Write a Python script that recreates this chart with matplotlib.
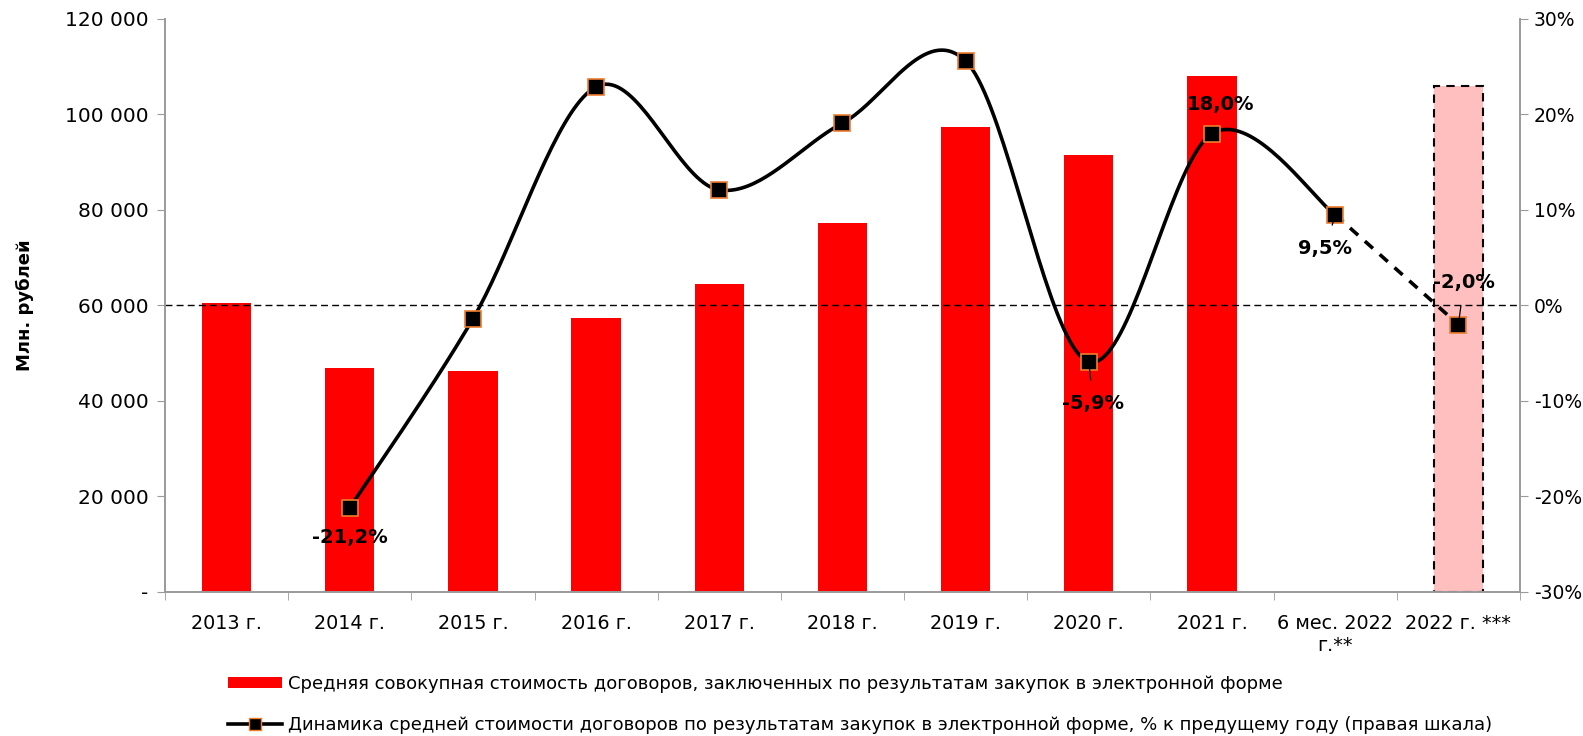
import numpy as np
import matplotlib.pyplot as plt
from matplotlib.patches import Patch
from matplotlib.lines import Line2D

plt.rcParams['font.family'] = ['DejaVu Sans']

categories = ['2013 г.', '2014 г.', '2015 г.', '2016 г.', '2017 г.', '2018 г.',
              '2019 г.', '2020 г.', '2021 г.', '6 мес. 2022\nг.**', '2022 г. ***']
avg_cost = [60500, 47000, 46300, 57300, 64500, 77200, 97400, 91500, 108100, None, 106000]
dyn_cats = ['2014 г.', '2015 г.', '2016 г.', '2017 г.', '2018 г.', '2019 г.',
            '2020 г.', '2021 г.', '6 мес. 2022\nг.**', '2022 г. ***']
dyn_pct = [-21.2, -1.4, 22.9, 12.1, 19.1, 25.6, -5.9, 18.0, 9.5, -2.0]

RED = '#FF0000'
PINK = '#FFBFBF'
ORANGE = '#ED7D31'
GRAY = '#9A9A9A'

fig = plt.figure(figsize=(15.83, 7.36), dpi=100)
ax = fig.add_axes([0.1042, 0.1957, 0.8560, 0.7785])
ax2 = ax.twinx()

x = np.arange(len(categories))
w = 0.4
for i, v in enumerate(avg_cost):
    if v is None:
        continue
    if i == len(categories) - 1:
        ax.bar(x[i], v, w, color=PINK, edgecolor='black', linestyle=(0, (4, 3)), linewidth=1.5, zorder=2)
    else:
        ax.bar(x[i], v, w, color=RED, zorder=2)

ax.set_xlim(-0.5, len(categories) - 0.5)
ax.set_ylim(0, 120000)
ax.set_yticks(np.arange(0, 120001, 20000))
ax.set_yticklabels(['-'] + [f'{v:,}'.replace(',', ' ') for v in range(20000, 120001, 20000)], fontsize=14.5)
ax.set_xticks(x)
ax.set_xticklabels(categories, fontsize=13.8, linespacing=1.2)
ax.set_xticks(np.arange(-0.5, len(categories), 1), minor=True)
ax.tick_params(axis='x', which='major', length=0, pad=16)
ax.tick_params(axis='x', which='minor', length=6, color=GRAY)
ax.tick_params(axis='y', length=6, color=GRAY, pad=6)
ax.set_ylabel('Млн. рублей', fontsize=13, fontweight='bold', labelpad=22)

ax2.set_ylim(-30, 30)
ax2.set_yticks(np.arange(-30, 31, 10))
ax2.set_yticklabels([f'{v}%' for v in range(-30, 31, 10)], fontsize=13.5)
ax2.tick_params(axis='y', length=6, color=GRAY, pad=4)

for a in (ax, ax2):
    a.spines['top'].set_visible(False)
    for s in ('left', 'right', 'bottom'):
        a.spines[s].set_color(GRAY)
        a.spines[s].set_linewidth(1.2)

ax2.axhline(0, color='black', linestyle=(0, (5, 3)), linewidth=1, zorder=1)

# smoothed line (Excel-style)
px = np.array([categories.index(c) for c in dyn_cats], dtype=float)
py = np.array(dyn_pct)
sx, sy = px[:-1], py[:-1]
P = np.column_stack([sx, sy])
Pext = np.vstack([P[0], P, P[-1]])
curve = []
t = np.linspace(0, 1, 40)[:, None]
for i in range(len(P) - 1):
    p0, p1, p2, p3 = Pext[i], Pext[i + 1], Pext[i + 2], Pext[i + 3]
    b1 = p1 + (p2 - p0) / 6
    b2 = p2 - (p3 - p1) / 6
    seg = (1 - t) ** 3 * p1 + 3 * (1 - t) ** 2 * t * b1 + 3 * (1 - t) * t ** 2 * b2 + t ** 3 * p2
    curve.append(seg)
curve = np.vstack(curve)
ax2.plot(curve[:, 0], curve[:, 1], color='black', linewidth=2.6, zorder=3)
ax2.plot(px[-2:], py[-2:], color='black', linewidth=2.6, linestyle=(0, (3, 2.5)), zorder=3)
ax2.plot(px, py, linestyle='none', marker='s', markersize=12, markerfacecolor='black',
         markeredgecolor=ORANGE, markeredgewidth=1.2, zorder=4)

labels = {0: (0, -21), 6: (3, -30), 7: (6, 21), 8: (-7, -24), 9: (4, 30)}
for i, (dx, dy) in labels.items():
    txt = f'{dyn_pct[i]:.1f}%'.replace('.', ',')
    ax2.annotate(txt, (px[i], py[i]), xytext=(dx, dy), textcoords='offset points',
                 ha='center', va='center', fontsize=14, fontweight='bold', zorder=5,
                 arrowprops=dict(arrowstyle='-', color='black', lw=0.9, shrinkA=8, shrinkB=5))

handles = [Patch(facecolor=RED, edgecolor='none'),
           Line2D([], [], color='black', linewidth=2.6, marker='s', markersize=8,
                  markerfacecolor='black', markeredgecolor=ORANGE)]
names = ['Средняя совокупная стоимость договоров, заключенных по результатам закупок в электронной форме',
         'Динамика средней стоимости договоров по результатам закупок в электронной форме, % к предущему году (правая шкала)']
fig.legend(handles, names, loc='upper left', bbox_to_anchor=(0.144, 0.083), frameon=False,
           fontsize=13, handlelength=3.0, handleheight=0.6, handletextpad=0.3, labelspacing=1.3,
           borderaxespad=0, borderpad=0)

fig.savefig('out.png', dpi=100)
